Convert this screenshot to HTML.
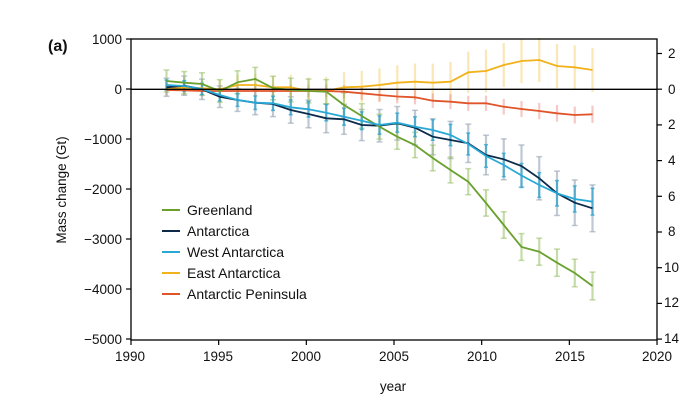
<!DOCTYPE html>
<html><head><meta charset="utf-8"><style>
html,body{margin:0;padding:0;background:#fff;}
svg{display:block;font-family:"Liberation Sans",Arial,sans-serif;}
</style></head><body>
<svg id="s" width="694" height="412" viewBox="0 0 694 412" xmlns="http://www.w3.org/2000/svg">
<rect x="0" y="0" width="694" height="412" fill="#fff"/>
<g id="bars"></g>
<g id="lines"></g>
<line x1="131" y1="89.3" x2="657" y2="89.3" stroke="#000" stroke-width="1.3"/>
<rect x="131" y="39" width="526" height="301" fill="none" stroke="#000" stroke-width="1.3"/>
<g stroke="#000" stroke-width="1.2" id="ticks"></g>
<g font-size="13.5" fill="#111" text-anchor="end">
<text x="122" y="44">1000</text>
<text x="122" y="94">0</text>
<text x="122" y="144">−1000</text>
<text x="122" y="194">−2000</text>
<text x="122" y="244">−3000</text>
<text x="122" y="294">−4000</text>
<text x="122" y="344">−5000</text>
</g>
<g font-size="13.5" fill="#111" text-anchor="start">
<text x="668" y="58">2</text>
<text x="668" y="94">0</text>
<text x="668" y="129">2</text>
<text x="668" y="165">4</text>
<text x="668" y="201">6</text>
<text x="668" y="236">8</text>
<text x="664" y="272">10</text>
<text x="664" y="307">12</text>
<text x="664" y="343">14</text>
</g>
<g font-size="13.5" fill="#111" text-anchor="middle">
<text x="130" y="361">1990</text>
<text x="218" y="361">1995</text>
<text x="306" y="361">2000</text>
<text x="394" y="361">2005</text>
<text x="482" y="361">2010</text>
<text x="570" y="361">2015</text>
<text x="657" y="361">2020</text>
<text x="393" y="391">year</text>
</g>
<text x="66" y="190" font-size="13.5" fill="#111" text-anchor="middle" transform="rotate(-90 66 190)">Mass change (Gt)</text>
<text x="48" y="51" font-size="16" font-weight="bold" fill="#111">(a)</text>
<g font-size="14" fill="#111">
<line x1="162" y1="210" x2="180" y2="210" stroke="#6aa12e" stroke-width="2"/><text x="187" y="215">Greenland</text>
<line x1="162" y1="231" x2="180" y2="231" stroke="#0c2a4a" stroke-width="2"/><text x="187" y="236">Antarctica</text>
<line x1="162" y1="252" x2="180" y2="252" stroke="#29a8d6" stroke-width="2"/><text x="187" y="257">West Antarctica</text>
<line x1="162" y1="273" x2="180" y2="273" stroke="#f2b21b" stroke-width="2"/><text x="187" y="278">East Antarctica</text>
<line x1="162" y1="294" x2="180" y2="294" stroke="#e0542a" stroke-width="2"/><text x="187" y="299">Antarctic Peninsula</text>
</g>
</svg>
<script>
var NS="http://www.w3.org/2000/svg";
function X(i){return 166.5+i*17.75;}
var S=[
{c:"#f2b21b",bc:"rgba(246,200,90,0.45)",e:function(i){return Math.min(22,7+i*0.8)},y:[89.3,87.3,88.3,89.3,85,85,87.3,87.3,91,91,87.3,86.7,85,82.7,81.7,82.7,81.7,72.3,71,65,61,60,66,67.3,70],cap:0},
{c:"#e0542a",bc:"rgba(230,120,110,0.4)",e:function(i){return 5+i*0.15},y:[90,90.3,91,91,91,91,91,91,91,91,91.7,93.3,95,96.5,97.3,100.7,101.7,103.3,103.3,106.7,109,111,113.3,115,114.3],cap:0},
{c:"#0c2a4a",bc:"rgba(150,165,180,0.6)",e:function(i){return 9+i*0.6},y:[87.3,85.7,89.3,96.7,100,102.7,104,110,114,118.3,119.3,125,125.7,123.3,127.7,136.7,140,143.3,155,159.3,166,178.3,193.3,202.7,208.3],cap:3},
{c:"#6aa12e",bc:"rgba(150,190,100,0.55)",e:function(i){return 11+i*0.12},y:[81,82.7,84,91,82.3,79,88,90,91,91.7,105,116,126.7,136.7,145,158,170,181.7,203,225,247,251.7,262.7,273,286],cap:3},
{c:"#29a8d6",bc:"rgba(41,160,205,0.7)",e:function(i){return 5+i*0.35},y:[85,86,89,95,100,102.7,103.3,107.3,109.3,112.7,116.7,120.7,125,122.7,126.7,130,135,144,156,165,175.5,185,193.3,199,201.7],cap:2}
];
var bars=document.getElementById("bars"),lines=document.getElementById("lines");
function L(g,x1,y1,x2,y2,c,w){var l=document.createElementNS(NS,"line");l.setAttribute("x1",x1);l.setAttribute("y1",y1);l.setAttribute("x2",x2);l.setAttribute("y2",y2);l.setAttribute("stroke",c);l.setAttribute("stroke-width",w);g.appendChild(l);}
S.forEach(function(s){
 s.y.forEach(function(y,i){var x=X(i),e=s.e(i);L(bars,x,y-e,x,y+e,s.bc,2.2);if(s.cap){L(bars,x-s.cap,y-e,x+s.cap,y-e,s.bc,1.5);L(bars,x-s.cap,y+e,x+s.cap,y+e,s.bc,1.5);}});
});
S.forEach(function(s){var p=document.createElementNS(NS,"polyline");p.setAttribute("points",s.y.map(function(y,i){return X(i)+","+y}).join(" "));p.setAttribute("fill","none");p.setAttribute("stroke",s.c);p.setAttribute("stroke-width","1.8");lines.appendChild(p);});
var t=document.getElementById("ticks");
for(var k=0;k<7;k++){L(t,126,39+k*50,131,39+k*50,"#000",1.2);var x=131+k*87.67;L(t,x,340,x,345,"#000",1.2);}
for(var k=0;k<9;k++){var y=53.5+k*35.7;L(t,657,y,662,y,"#000",1.2);}
</script>
</body></html>
